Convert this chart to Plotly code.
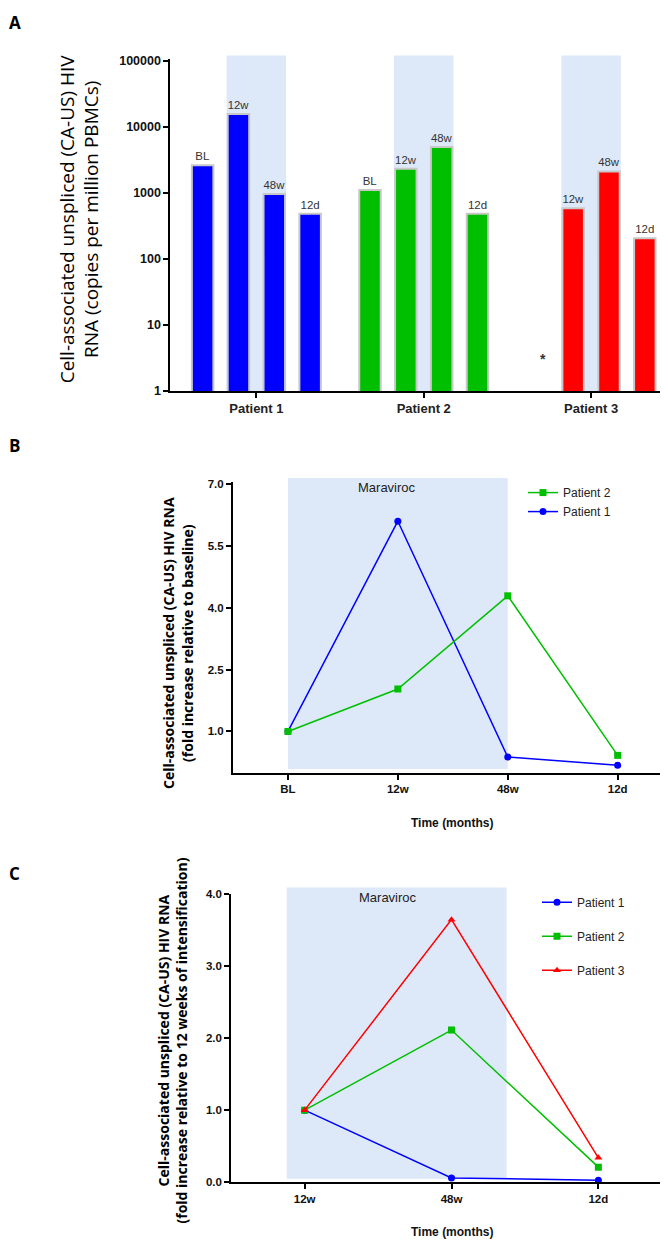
import plotly.graph_objects as go

W, H = 668, 1240

# ---------------- Panel A data ----------------
time_points = ["BL", "12w", "48w", "12d"]
patients = ["Patient 1", "Patient 2", "Patient 3"]
p1_copies = [2600, 15500, 960, 480]
p2_copies = [1100, 2300, 4900, 480]
p3_copies = [None, 580, 2100, 205]
bar_colors = ["#0000ff", "#00bf00", "#ff0000"]
yA_tickvals = [1, 10, 100, 1000, 10000, 100000]
yA_ticktext = ["1", "10", "100", "1000", "10000", "100000"]

# ---------------- Panel B data ----------------
times_b = ["BL", "12w", "48w", "12d"]
p1_fold_b = [1.0, 6.10, 0.38, 0.18]
p2_fold_b = [1.0, 2.03, 4.29, 0.42]
yB_ticks = [1.0, 2.5, 4.0, 5.5, 7.0]

# ---------------- Panel C data ----------------
times_c = ["12w", "48w", "12d"]
p1_fold_c = [1.0, 0.06, 0.03]
p2_fold_c = [1.0, 2.11, 0.21]
p3_fold_c = [1.0, 3.64, 0.34]
yC_ticks = [0.0, 1.0, 2.0, 3.0, 4.0]

SHADE = "#dde9f9"
SANS = "Liberation Sans, Arial, sans-serif"
TICKFONT = dict(family=SANS, size=11.5, color="#111", weight="bold")
TITLEFONT = "Open Sans, Noto Sans, sans-serif"

def px_x(p):
    return p / W

def px_y(p):
    return 1 - p / H

fig = go.Figure()

# ---------- Panel A bars ----------
group_offset = 4.67
half_bar = 0.33
all_copies = [p1_copies, p2_copies, p3_copies]
for g, (name, vals, col) in enumerate(zip(patients, all_copies, bar_colors)):
    xs = [g * group_offset + i for i in range(len(time_points))]
    texts = [t if v is not None else None for t, v in zip(time_points, vals)]
    fig.add_trace(go.Bar(
        x=xs, y=vals, width=0.6, name=name,
        marker=dict(color=col, line=dict(color="#c8c8c8", width=2)),
        text=texts, textposition="outside", cliponaxis=False,
        textfont=dict(family=SANS, size=11.5, color="#333"),
        showlegend=False, xaxis="x", yaxis="y",
    ))
    # Maraviroc shading: from 12w to 48w
    fig.add_shape(type="rect", xref="x", yref="y domain",
                  x0=g * group_offset + 1 - half_bar, x1=g * group_offset + 2 + half_bar,
                  y0=0, y1=1.009, fillcolor=SHADE, line_width=0, layer="below")

group_centers = [g * group_offset + 1.5 for g in range(len(patients))]

# asterisk for missing Patient 3 baseline
fig.add_annotation(text="<b>*</b>", xref="x", yref="y domain", x=2 * group_offset + 0.15, y=0.065,
                   showarrow=False, font=dict(family=SANS, size=14, color="#333"))

# ---------- Panel B lines ----------
xb = list(range(len(times_b)))
fig.add_trace(go.Scatter(x=xb, y=p1_fold_b, mode="lines+markers", name="Patient 1",
                         line=dict(color="#0000ff", width=1.5),
                         marker=dict(symbol="circle", size=7, color="#0000ff"),
                         xaxis="x2", yaxis="y2", legend="legend2", legendrank=2))
fig.add_trace(go.Scatter(x=xb, y=p2_fold_b, mode="lines+markers", name="Patient 2",
                         line=dict(color="#00bf00", width=1.5),
                         marker=dict(symbol="square", size=7, color="#00bf00"),
                         xaxis="x2", yaxis="y2", legend="legend2", legendrank=1))
fig.add_shape(type="rect", xref="x2", yref="y2 domain", x0=0, x1=2, y0=0.0126, y1=1.0136,
              fillcolor=SHADE, line_width=0, layer="below")

# ---------- Panel C lines ----------
xc = list(range(len(times_c)))
for name, vals, col, sym, r in [("Patient 1", p1_fold_c, "#0000ff", "circle", 1),
                                ("Patient 2", p2_fold_c, "#00bf00", "square", 2),
                                ("Patient 3", p3_fold_c, "#ff0000", "triangle-up", 3)]:
    fig.add_trace(go.Scatter(x=xc, y=vals, mode="lines+markers", name=name,
                             line=dict(color=col, width=1.5),
                             marker=dict(symbol=sym, size=7, color=col),
                             xaxis="x3", yaxis="y3", legend="legend3",
                             legendgroup="c" + str(r), legendrank=r))
fig.add_shape(type="rect", xref="x3", yref="y3 domain", x0=-0.122, x1=1.375, y0=0.0127, y1=1.0216,
              fillcolor=SHADE, line_width=0, layer="below")

axis_common = dict(showgrid=False, zeroline=False, showline=True, linecolor="black",
                   ticks="outside", ticklen=5, tickwidth=1.5, tickcolor="black")

fig.update_layout(
    width=W, height=H, margin=dict(l=0, r=0, t=0, b=0),
    paper_bgcolor="white", plot_bgcolor="white",
    barmode="overlay",
    xaxis=dict(domain=[px_x(162.2), 1.0], range=[-0.905, 13.21],
               tickvals=group_centers, ticktext=patients, anchor="y", linewidth=1.5,
               tickfont=dict(family=SANS, size=13, color="#222", weight="bold"), **axis_common),
    yaxis=dict(domain=[px_y(381), px_y(45)], type="log", range=[0, 5.03],
               tickvals=yA_tickvals, ticktext=yA_ticktext, anchor="x", linewidth=1.5,
               tickfont=dict(family=SANS, size=12.5, color="#111", weight="bold"), **axis_common),
    xaxis2=dict(domain=[px_x(225), px_x(664.6)], range=[-0.5, 3.5],
                tickvals=xb, ticktext=times_b, anchor="y2", linewidth=2,
                tickfont=TICKFONT, **axis_common),
    yaxis2=dict(domain=[px_y(766.7), px_y(473)], range=[0, 7.05],
                tickvals=yB_ticks, tickformat=".1f", anchor="x2", linewidth=2,
                tickfont=TICKFONT, **axis_common),
    xaxis3=dict(domain=[px_x(223.2), px_x(663.8)], range=[-0.5, 2.5],
                tickvals=xc, ticktext=times_c, anchor="y3", linewidth=2,
                tickfont=TICKFONT, **axis_common),
    yaxis3=dict(domain=[px_y(1180.7), px_y(889)], range=[0, 4.0],
                tickvals=yC_ticks, tickformat=".1f", anchor="x3", linewidth=2,
                tickfont=TICKFONT, **axis_common),
    showlegend=True,
    legend2=dict(x=px_x(515), y=px_y(469), xanchor="left", yanchor="top",
                 font=dict(family=SANS, size=12, color="#222"),
                 bgcolor="rgba(0,0,0,0)", itemwidth=30, tracegroupgap=0),
    legend3=dict(x=px_x(529), y=px_y(883), xanchor="left", yanchor="top",
                 font=dict(family=SANS, size=12, color="#222"),
                 bgcolor="rgba(0,0,0,0)", itemwidth=30, tracegroupgap=15),
)

ann_font_bold = dict(family=SANS, size=12, color="#111")
annotations = [
    # panel letters
    dict(text="<b>A</b>", x=px_x(7), y=px_y(9), font=dict(family=TITLEFONT, size=17, color="black")),
    dict(text="<b>B</b>", x=px_x(6), y=px_y(436), font=dict(family=TITLEFONT, size=17, color="black")),
    dict(text="<b>C</b>", x=px_x(6), y=px_y(869), font=dict(family=TITLEFONT, size=17, color="black")),
    # y titles
    dict(text="Cell-associated unspliced (CA-US) HIV<br>RNA (copies per million PBMCs)",
         x=px_x(71.5), y=px_y(207), textangle=-90,
         font=dict(family=TITLEFONT, size=19, color="black")),
    dict(text="<b>Cell-associated unspliced (CA-US) HIV RNA<br>(fold increase relative to baseline)</b>",
         x=px_x(169.7), y=px_y(636), textangle=-90,
         font=dict(family=TITLEFONT, size=14, color="black")),
    dict(text="<b>Cell-associated unspliced (CA-US) HIV RNA<br>(fold increase relative to 12 weeks of intensification)</b>",
         x=px_x(164.4), y=px_y(1037), textangle=-90,
         font=dict(family=TITLEFONT, size=14, color="black")),
    # x titles
    dict(text="<b>Time (months)</b>", x=px_x(444), y=px_y(818), font=ann_font_bold),
    dict(text="<b>Time (months)</b>", x=px_x(444), y=px_y(1231), font=ann_font_bold),
    # Maraviroc labels
    dict(text="Maraviroc", x=px_x(379), y=px_y(478.5),
         font=dict(family=SANS, size=13, color="#222")),
    dict(text="Maraviroc", x=px_x(380), y=px_y(892.5),
         font=dict(family=SANS, size=13, color="#222")),
]
for a in annotations:
    fig.add_annotation(xref="paper", yref="paper", showarrow=False,
                       xanchor="center", yanchor="middle", **a)

fig.write_html("out.html")
